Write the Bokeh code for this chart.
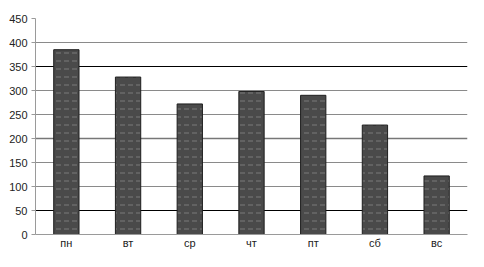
from bokeh.plotting import figure
from bokeh.models import FixedTicker, Grid, Range1d
from bokeh.embed import file_html
from bokeh.resources import INLINE

days = ["пн", "вт", "ср", "чт", "пт", "сб", "вс"]
values = [385, 328, 272, 298, 290, 228, 122]
y_ticks = [0, 50, 100, 150, 200, 250, 300, 350, 400, 450]

p = figure(x_range=days, y_range=Range1d(0, 450), width=468, height=251,
           output_backend="svg", toolbar_location=None,
           min_border_left=35, min_border_right=1, min_border_top=18, min_border_bottom=15)
p.outline_line_color = None
p.background_fill_color = "white"

p.vbar(x=days, top=values, width=0.41, fill_color="#4a4a4a", line_color="#1e1e1e",
       line_width=1, hatch_pattern='"', hatch_color="#a0a0a0", hatch_alpha=0.55,
       hatch_scale=8, hatch_weight=1)

p.yaxis.ticker = FixedTicker(ticks=y_ticks)
p.ygrid.ticker = FixedTicker(ticks=[100, 150, 250, 300, 400])
p.ygrid.grid_line_color = "#8a8a8a"
p.ygrid.grid_line_width = 1
p.xgrid.grid_line_color = None
mid = Grid(dimension=1, ticker=FixedTicker(ticks=[200]), grid_line_color="#777777", grid_line_width=1.5)
dark = Grid(dimension=1, ticker=FixedTicker(ticks=[50, 350]), grid_line_color="black", grid_line_width=1)
p.add_layout(mid)
p.add_layout(dark)
p.renderers.insert(0, p.renderers.pop())
p.renderers.insert(0, p.renderers.pop())

for ax in (p.xaxis[0], p.yaxis[0]):
    ax.axis_line_color = "#9a9a9a"
    ax.major_label_text_font = "Liberation Sans"
    ax.major_label_text_font_size = "11px"
    ax.major_label_text_color = "#222222"
    ax.minor_tick_line_color = None

p.yaxis.major_tick_line_color = "#9a9a9a"
p.yaxis.major_tick_out = 4
p.yaxis.major_tick_in = 0
p.yaxis.major_label_standoff = 4
p.xaxis.major_tick_line_color = None
p.xaxis.major_tick_out = 0
p.xaxis.major_tick_in = 0
p.xaxis.major_label_standoff = 2
p.x_range.range_padding = 0

open("out.html", "w").write(file_html(p, INLINE))
